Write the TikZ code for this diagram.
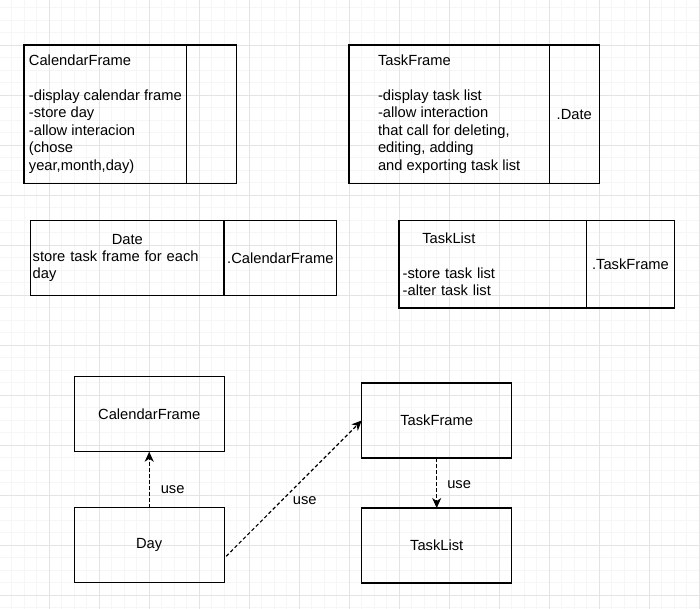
\documentclass[tikz,border=0pt]{standalone}
\usepackage{fontspec}
\setmainfont{Liberation Sans}
\usepackage{tikz}
\usetikzlibrary{arrows.meta, positioning}
\definecolor{gridminor}{RGB}{246, 246, 246}
\definecolor{gridmajor}{RGB}{228, 228, 228}

\begin{document}
\begin{tikzpicture}[
    x=1pt, y=-1pt,
    basebox/.style={draw, line width=1.2pt, outer sep=0pt, inner sep=2pt, font=\fontsize{14.7}{17.4}\selectfont},
    infobox/.style={basebox, align=left, anchor=north west},
    refbox/.style={basebox, align=center},
    cls/.style={basebox, minimum width=150pt, minimum height=75pt},
    dep/.style={-{Stealth[length=10pt, width=9pt, inset=3pt]}, line width=1.2pt, dash pattern=on 3.5pt off 2.5pt},
    lbl/.style={font=\fontsize{14.7}{17.4}\selectfont, inner sep=1pt}
]
    \useasboundingbox (0,0) rectangle (700,609);

    % Background grid
    \foreach \gx in {11.8,24.3,...,700} \draw[gridminor, line width=0.8pt] (\gx,0) -- (\gx,609);
    \foreach \gy in {7.5,20,...,609} \draw[gridminor, line width=0.8pt] (0,\gy) -- (700,\gy);
    \foreach \gx in {49.3,99.3,...,700} \draw[gridmajor, line width=0.9pt] (\gx,0) -- (\gx,609);
    \foreach \gy in {45,95,...,609} \draw[gridmajor, line width=0.9pt] (0,\gy) -- (700,\gy);

    % Class descriptions
    \node[infobox, minimum width=162.7pt, minimum height=138.3pt] (calinfo) at (24,45)
        {CalendarFrame\\[17.4pt]-display calendar frame\\-store day\\-allow interacion\\(chose\\year,month,day)};
    \node[refbox, right=0pt of calinfo, minimum width=50pt, minimum height=138.3pt] (calref) {};

    \node[infobox, minimum width=200.3pt, minimum height=138.3pt] (taskinfo) at (349,45)
        {TaskFrame\\[17.4pt]-display task list\\-allow interaction\\that call for deleting,\\editing, adding\\and exporting task list};
    \node[refbox, right=0pt of taskinfo, minimum width=50pt, minimum height=138.3pt] (taskref) {.Date};

    \node[infobox, inner xsep=2pt, text width=189.3pt, minimum height=74.6pt] (dateinfo) at (30.7,220.7)
        {\makebox[189.3pt]{Date}\\store task frame for each\\day};
    \node[refbox, right=0pt of dateinfo, minimum width=112.7pt, minimum height=74.6pt] (dateref) {.CalendarFrame};

    \node[infobox, inner xsep=3.7pt, text width=180.3pt, minimum height=87.3pt] (listinfo) at (399,220.7)
        {\hspace*{19.6pt}TaskList\\[17.4pt]-store task list\\-alter task list};
    \node[refbox, right=0pt of listinfo, minimum width=87.6pt, minimum height=87.3pt] (listref) {.TaskFrame};

    % Usage diagram
    \node[cls] (calendar) at (149.2,414.2) {CalendarFrame};
    \node[cls, below=56pt of calendar] (day) {Day};
    \node[cls] (taskframe) at (436.7,420.5) {TaskFrame};
    \node[cls, below=50pt of taskframe] (tasklist) {TaskList};
    \coordinate (dayout) at ([shift={(2,11)}]day.east);

    \draw[dep] (day) -- (calendar) node[lbl, pos=0.33, right=10pt] {use};
    \draw[dep] (dayout) -- (taskframe.west) node[lbl, pos=0.48, anchor=north west, yshift=-4pt] {use};
    \draw[dep] (taskframe) -- (tasklist) node[lbl, pos=0.53, right=9pt] {use};
\end{tikzpicture}
\end{document}
